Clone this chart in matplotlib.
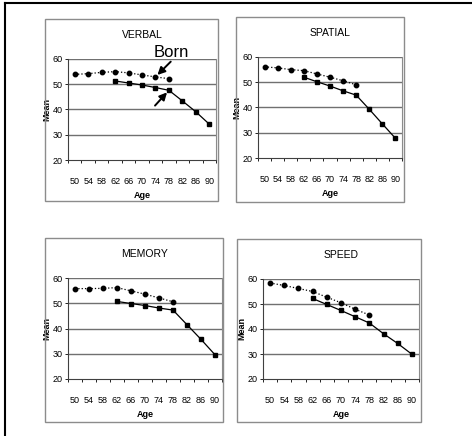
import matplotlib
matplotlib.use('Agg')
import matplotlib.pyplot as plt
from matplotlib.patches import Rectangle
from matplotlib.lines import Line2D
import numpy as np

ages = [50, 54, 58, 62, 66, 70, 74, 78, 82, 86, 90]
cross_ages = [50, 54, 58, 62, 66, 70, 74, 78]
long_ages = [62, 66, 70, 74, 78, 82, 86, 90]

verbal_cross = [53.9, 54.2, 54.7, 55.0, 54.5, 53.7, 52.9, 52.2]
verbal_long = [51.3, 50.5, 49.7, 48.7, 47.6, 43.4, 39.1, 34.2]
spatial_cross = [56.1, 55.7, 55.0, 54.6, 53.3, 52.0, 50.6, 49.0]
spatial_long = [52.0, 50.2, 48.5, 46.6, 44.9, 39.3, 33.5, 27.8]
memory_cross = [55.8, 55.8, 55.9, 56.2, 54.9, 53.6, 52.1, 50.6]
memory_long = [50.7, 49.9, 49.1, 48.1, 47.3, 41.5, 35.7, 29.6]
speed_cross = [58.4, 57.4, 56.2, 55.0, 52.7, 50.5, 47.9, 45.6]
speed_long = [52.2, 49.8, 47.4, 44.9, 42.4, 38.1, 34.2, 29.9]

titles = ['VERBAL', 'SPATIAL', 'MEMORY', 'SPEED']
cross_sets = [verbal_cross, spatial_cross, memory_cross, speed_cross]
long_sets = [verbal_long, spatial_long, memory_long, speed_long]

W, H = 472, 436
# plot area (left, right, top, bottom) and outer box, in pixels
areas = [(68, 216, 59, 160), (258, 402, 57, 158), (68, 222, 278, 379), (263, 419, 279, 379)]
boxes = [(45, 218, 19, 201), (236, 404, 17, 202), (45, 223, 238, 422), (237, 421, 239, 422)]

narrow = ['Liberation Sans Narrow', 'Liberation Sans', 'DejaVu Sans']
grey = '#8c8c8c'

fig = plt.figure(figsize=(W / 100, H / 100), dpi=100)

# outer frame (top and left only)
fig.add_artist(Line2D([5 / W, 1], [1 - 3 / H, 1 - 3 / H], color='black', lw=1.5))
fig.add_artist(Line2D([5 / W, 5 / W], [1 - 3 / H, 0], color='black', lw=1.5))

axes = []
for i in range(4):
    l, r, t, b = boxes[i]
    fig.add_artist(Rectangle((l / W, 1 - b / H), (r - l) / W, (b - t) / H,
                             transform=fig.transFigure, fill=False, ec=grey, lw=1.0))
    l, r, t, b = areas[i]
    ax = fig.add_axes([l / W, 1 - b / H, (r - l) / W, (b - t) / H])
    axes.append(ax)

    xc = [ages.index(a) for a in cross_ages]
    xl = [ages.index(a) for a in long_ages]
    ax.plot(xc, cross_sets[i], ':', color='black', lw=0.9, marker='o', ms=3.2, zorder=3)
    ax.plot(xl, long_sets[i], '-', color='black', lw=0.9, marker='s', ms=3.2, zorder=3)

    ax.set_xlim(-0.5, len(ages) - 0.5)
    ax.set_ylim(20, 60)
    ax.set_yticks([20, 30, 40, 50, 60])
    for y in [30, 40, 50, 60]:
        ax.axhline(y, color='#707070', lw=1.0, zorder=1)
    ax.set_xticks(range(len(ages)))
    ax.set_xticklabels([str(a) for a in ages], family=narrow, fontsize=6.5)
    ax.set_xticks(np.arange(-0.5, len(ages), 1), minor=True)
    ax.tick_params(axis='x', which='major', length=0, pad=12.5)
    ax.tick_params(axis='x', which='minor', length=2.5, width=0.6, direction='out')
    ax.tick_params(axis='y', length=2.5, width=0.6, pad=1.5)
    for lab in ax.get_yticklabels():
        lab.set_family(narrow)
        lab.set_fontsize(6.5)
    for s in ['left', 'bottom']:
        ax.spines[s].set_color('#404040')
        ax.spines[s].set_linewidth(0.8)
    ax.spines['top'].set_visible(False)
    ax.spines['right'].set_color(grey)
    ax.spines['right'].set_linewidth(0.8)
    ax.set_ylabel('Mean', family=narrow, fontsize=6.5, fontweight='bold', labelpad=0.5)
    ax.set_xlabel('Age', family=narrow, fontsize=6.5, fontweight='bold', labelpad=3)
    ax.set_title(titles[i], family=narrow, fontsize=7.5, pad=15)

# annotations on VERBAL
ax = axes[0]
ax.text(7.2, 60.9, 'Born', family=['Liberation Sans', 'DejaVu Sans'], fontsize=12,
        ha='center', va='baseline', clip_on=False)
arrow = dict(arrowstyle='-|>', color='black', lw=1.4, mutation_scale=11, shrinkA=0, shrinkB=2)
ax.annotate('', xy=(ages.index(74), verbal_cross[6]), xytext=(11, 11),
            textcoords='offset points', arrowprops=arrow)
ax.annotate('', xy=(ages.index(78), verbal_long[4]), xytext=(-10, -11),
            textcoords='offset points', arrowprops=arrow)

fig.savefig('out.png', dpi=100)
